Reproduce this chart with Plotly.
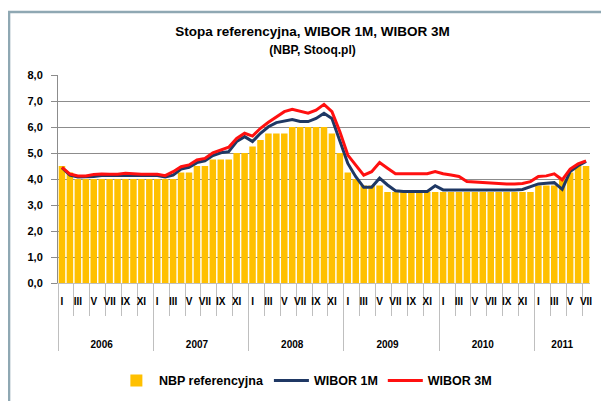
import plotly.graph_objects as go

years = ["2006", "2007", "2008", "2009", "2010", "2011"]
months_per_year = [12, 12, 12, 12, 12, 7]
roman = ["I", "II", "III", "IV", "V", "VI", "VII", "VIII", "IX", "X", "XI", "XII"]

nbp = [4.50, 4.25, 4.00, 4.00, 4.00, 4.00, 4.00, 4.00, 4.00, 4.00, 4.00, 4.00,
       4.00, 4.00, 4.00, 4.25, 4.25, 4.50, 4.50, 4.75, 4.75, 4.75, 5.00, 5.00,
       5.25, 5.50, 5.75, 5.75, 5.75, 6.00, 6.00, 6.00, 6.00, 6.00, 5.75, 5.00,
       4.25, 4.00, 3.75, 3.75, 3.75, 3.50, 3.50, 3.50, 3.50, 3.50, 3.50, 3.50,
       3.50, 3.50, 3.50, 3.50, 3.50, 3.50, 3.50, 3.50, 3.50, 3.50, 3.50, 3.50,
       3.75, 3.75, 3.75, 4.00, 4.25, 4.50, 4.50]

wibor1m = [4.44, 4.15, 4.08, 4.08, 4.10, 4.13, 4.13, 4.15, 4.15, 4.14, 4.13, 4.13,
           4.13, 4.08, 4.15, 4.38, 4.45, 4.63, 4.70, 4.90, 5.01, 5.05, 5.44, 5.63,
           5.44, 5.76, 6.01, 6.17, 6.24, 6.29, 6.21, 6.21, 6.33, 6.53, 6.33, 5.50,
           4.60, 4.09, 3.68, 3.68, 4.03, 3.77, 3.55, 3.52, 3.52, 3.52, 3.52, 3.74,
           3.58, 3.58, 3.58, 3.58, 3.58, 3.58, 3.58, 3.57, 3.57, 3.58, 3.60, 3.69,
           3.81, 3.84, 3.86, 3.60, 4.29, 4.51, 4.68]

wibor3m = [4.45, 4.19, 4.12, 4.12, 4.17, 4.19, 4.18, 4.18, 4.22, 4.19, 4.18, 4.18,
           4.18, 4.13, 4.28, 4.47, 4.54, 4.73, 4.79, 5.01, 5.12, 5.22, 5.56, 5.76,
           5.65, 5.95, 6.18, 6.40, 6.59, 6.68, 6.60, 6.53, 6.65, 6.87, 6.59, 5.82,
           4.92, 4.54, 4.15, 4.28, 4.63, 4.41, 4.20, 4.20, 4.20, 4.20, 4.20, 4.29,
           4.20, 4.15, 4.10, 3.90, 3.88, 3.86, 3.84, 3.81, 3.81, 3.81, 3.83, 3.90,
           4.10, 4.12, 4.20, 3.97, 4.38, 4.58, 4.70]

# multicategory x: only odd months are labelled (I, III, V, ...)
outer, inner = [], []
for y, n in zip(years, months_per_year):
    for k in range(n):
        outer.append("<br><br><br>" + y)
        inner.append(roman[k] if k % 2 == 0 else " " * ((k + 1) // 2))
x = [outer, inner]

FONT = "Liberation Sans Narrow, Liberation Sans, Arial, sans-serif"

fig = go.Figure()
fig.add_trace(go.Bar(x=x, y=nbp, name="NBP referencyjna", marker_color="#FFC000",
                     marker_line_width=0))
fig.add_trace(go.Scatter(x=x, y=wibor1m, name="WIBOR 1M", mode="lines",
                         line=dict(color="#1F3864", width=3)))
fig.add_trace(go.Scatter(x=x, y=wibor3m, name="WIBOR 3M", mode="lines",
                         line=dict(color="#FF1010", width=3)))

fig.update_layout(
    width=609, height=401,
    margin=dict(l=50, r=27, t=67, b=126),
    paper_bgcolor="white", plot_bgcolor="white",
    separators=", ",
    bargap=0.18,
    font=dict(family=FONT, size=10, color="black"),
    title=dict(text="Stopa referencyjna, WIBOR 1M, WIBOR 3M<br><span style='font-size:12px'>(NBP, Stooq.pl)</span>",
               x=0.5, xref="container", xanchor="center", y=0.93, yanchor="top",
               font=dict(family=FONT, size=13.5, color="black", weight="bold")),
    legend=dict(orientation="h", x=0.465, xanchor="center", y=-0.47, yanchor="middle",
                font=dict(family=FONT, size=12.5, color="black", weight="bold"), itemwidth=35,
                traceorder="normal", bgcolor="rgba(0,0,0,0)"),
    showlegend=True,
)
fig.update_yaxes(range=[0, 8], dtick=1, tickformat=".1f", showgrid=True,
                 gridcolor="#8C8C8C", gridwidth=1, showline=True, linecolor="#8C8C8C",
                 ticks="outside", ticklen=6, tickcolor="#8C8C8C", zeroline=False,
                 automargin=False, ticklabelstandoff=6,
                 tickfont=dict(family=FONT, size=11, color="black", weight="bold"))
fig.update_xaxes(type="multicategory", showline=True, linecolor="#BFBFBF",
                 ticks="outside", ticklen=32, tickcolor="#BFBFBF", tickangle=0,
                 showdividers=True, dividercolor="#BFBFBF", dividerwidth=1,
                 automargin=False, ticklabelstandoff=9,
                 tickfont=dict(family=FONT, size=10, color="black", weight="bold"),
                 showgrid=False)

fig.add_shape(type="rect", xref="paper", yref="paper",
              x0=-0.092, x1=1.08, y0=1.303, y1=-0.66,
              line=dict(color="#8FA8B3", width=2.5), fillcolor="rgba(0,0,0,0)", layer="above")

fig.write_html("out.html")
